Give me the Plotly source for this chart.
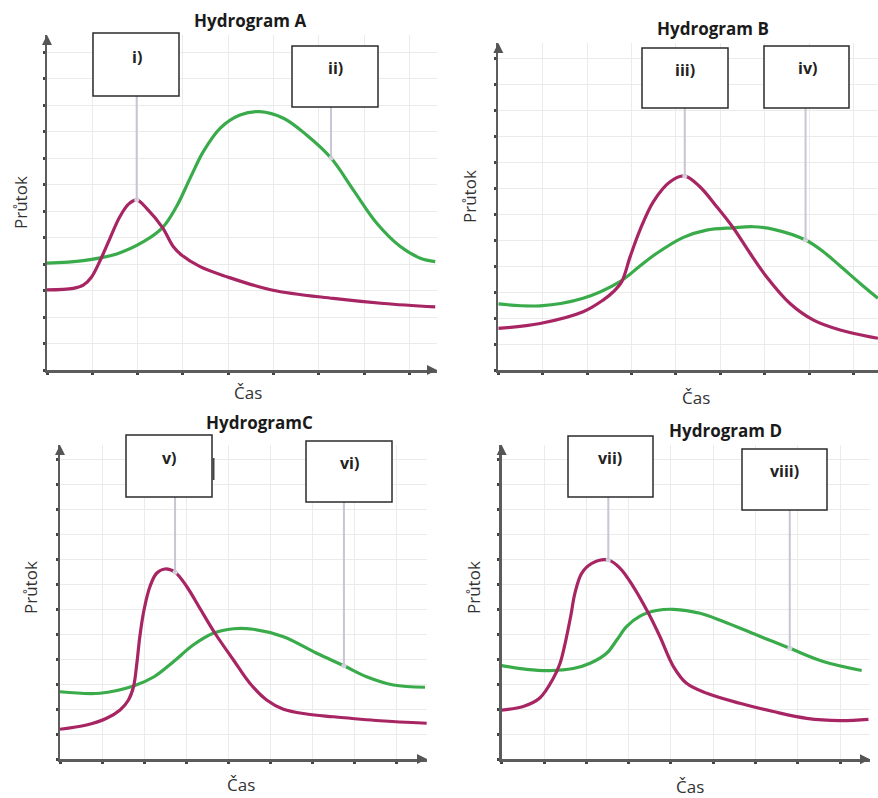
import plotly.graph_objects as go

# ---------------- data (x: time in grid divisions, y: flow in grid divisions) ----------------
A_red_x = [0.0, 0.58, 0.8, 0.98, 1.17, 1.39, 1.61, 1.8, 1.98, 2.2, 2.55, 2.79, 2.97, 3.38, 3.97, 4.96, 6.32, 7.43, 8.57]
A_red_y = [3.02, 3.08, 3.2, 3.5, 4.12, 4.97, 5.79, 6.26, 6.42, 6.1, 5.37, 4.65, 4.34, 3.9, 3.52, 3.02, 2.7, 2.51, 2.38]
A_green_x = [0.0, 0.8, 1.54, 2.13, 2.55, 2.86, 3.16, 3.45, 3.82, 4.26, 4.7, 5.22, 5.73, 6.27, 6.76, 7.28, 7.8, 8.24, 8.57]
A_green_y = [4.03, 4.13, 4.38, 4.84, 5.37, 6.17, 7.24, 8.24, 9.12, 9.62, 9.75, 9.5, 8.87, 8.0, 6.8, 5.54, 4.66, 4.22, 4.09]

B_red_x = [0.0, 0.94, 1.91, 2.36, 2.59, 2.78, 2.97, 3.19, 3.49, 3.87, 4.2, 4.54, 4.92, 5.29, 5.67, 6.04, 6.57, 7.1, 7.7, 8.55]
B_red_y = [1.6, 1.79, 2.24, 2.69, 3.01, 3.4, 4.36, 5.38, 6.47, 7.24, 7.46, 7.05, 6.28, 5.47, 4.49, 3.59, 2.56, 1.92, 1.54, 1.22]
B_green_x = [0.0, 0.94, 1.91, 2.74, 3.19, 3.57, 4.17, 4.69, 5.29, 5.74, 6.2, 6.92, 7.32, 7.7, 8.15, 8.55]
B_green_y = [2.54, 2.47, 2.76, 3.4, 4.0, 4.49, 5.1, 5.38, 5.47, 5.51, 5.41, 5.0, 4.55, 4.0, 3.33, 2.76]

C_red_x = [0.0, 0.63, 1.11, 1.43, 1.63, 1.75, 1.83, 1.9, 2.0, 2.14, 2.3, 2.5, 2.74, 3.02, 3.33, 3.69, 4.13, 4.52,
           4.92, 5.32, 5.87, 6.51, 7.62, 8.73]
C_red_y = [1.19, 1.36, 1.63, 1.96, 2.36, 2.89, 3.83, 4.89, 5.96, 6.89, 7.43, 7.6, 7.47, 6.89, 6.03, 5.03, 3.96, 3.03,
           2.36, 1.99, 1.8, 1.69, 1.53, 1.43]
C_green_x = [0.0, 0.95, 1.75, 2.24, 2.7, 3.17, 3.65, 4.13, 4.6, 5.32, 6.11, 6.76, 7.3, 7.94, 8.69]
C_green_y = [2.69, 2.63, 2.92, 3.29, 3.89, 4.56, 5.03, 5.21, 5.19, 4.89, 4.23, 3.73, 3.29, 2.96, 2.87]

D_red_x = [0.0, 0.51, 0.9, 1.22, 1.38, 1.5, 1.63, 1.73, 1.89, 2.13, 2.52, 2.8, 3.11, 3.47, 3.74, 4.06, 4.37, 4.85,
           5.63, 6.42, 7.21, 8.0, 8.67]
D_red_y = [1.97, 2.11, 2.45, 3.24, 3.84, 4.64, 5.71, 6.64, 7.44, 7.84, 7.97, 7.64, 6.91, 5.84, 4.91, 3.71, 3.04, 2.64,
           2.24, 1.91, 1.64, 1.55, 1.6]
D_green_x = [0.0, 0.59, 1.14, 1.69, 2.09, 2.48, 2.72, 2.95, 3.27, 3.66, 4.06, 4.69, 5.24, 6.03, 6.81, 7.6, 8.51]
D_green_y = [3.75, 3.6, 3.55, 3.63, 3.84, 4.24, 4.77, 5.31, 5.73, 5.95, 6.0, 5.84, 5.51, 4.97, 4.44, 3.91, 3.55]

titles = ["Hydrogram A", "Hydrogram B", "HydrogramC", "Hydrogram D"]
callout_labels = ["i)", "ii)", "iii)", "iv)", "v)", "vi)", "vii)", "viii)"]
# callout anchor x (time) on a curve
callout_x = [1.98, 6.27, 4.2, 6.92, 2.74, 6.76, 2.52, 6.81]
callout_series = ["red", "green", "red", "green", "red", "green", "red", "green"]
y_label = "Průtok"
x_label = "Čas"

# ---------------- layout geometry (pixels) ----------------
W, H = 878, 798
RED = "#a82563"
GREEN = "#3aab4b"


def X(px):
    return px / W


def Y(py):
    return 1 - py / H


# x0, x1, ybottom, ytop, px per x-unit, px per y-unit
geo = [
    (47, 437, 370, 35, 45.3, 26.5),
    (498.3, 878, 370, 43, 44.4, 26.0),
    (60, 427, 759, 445, 42.0, 25.0),
    (501.7, 870, 759.3, 445, 42.3, 25.0),
]
series = [
    (A_red_x, A_red_y, A_green_x, A_green_y),
    (B_red_x, B_red_y, B_green_x, B_green_y),
    (C_red_x, C_red_y, C_green_x, C_green_y),
    (D_red_x, D_red_y, D_green_x, D_green_y),
]
title_pos = [(250, 20), (713, 28), (259, 422), (725, 430)]
ylab_pos = [(20, 203), (470, 197), (30, 588), (473, 587)]
xlab_pos = [(248, 393), (696, 397), (241, 784), (690, 786)]
# box: (left, top, right, bottom), label centre
boxes = [
    ((93, 33, 179, 96), (137, 57)),
    ((292, 46, 378, 107), (335, 68)),
    ((642, 48, 728, 108), (685, 70)),
    ((764, 46, 849, 108), (807, 68)),
    ((126, 435, 212, 497), (169, 458)),
    ((306, 441, 392, 502), (349, 463)),
    ((568, 436, 653, 497), (610, 458)),
    ((742, 449, 827, 510), (784, 471)),
]

fig = go.Figure()
shapes = []
annotations = []
FONT = "Open Sans"

for k in range(4):
    x0, x1, yb, yt, ux, uy = geo[k]
    xr = (x1 - x0) / ux
    yr = (yb - yt) / uy
    sfx = "" if k == 0 else str(k + 1)
    xa, ya = "x" + sfx, "y" + sfx
    rx, ry, gx, gy = series[k]
    fig.add_trace(go.Scatter(x=gx, y=gy, mode="lines",
                             line=dict(color=GREEN, width=3.2, shape="spline", smoothing=1.0),
                             xaxis=xa, yaxis=ya, showlegend=False, hoverinfo="skip"))
    fig.add_trace(go.Scatter(x=rx, y=ry, mode="lines",
                             line=dict(color=RED, width=3.2, shape="spline", smoothing=1.0),
                             xaxis=xa, yaxis=ya, showlegend=False, hoverinfo="skip"))
    axis_common = dict(showgrid=True, gridcolor="#ebebeb", gridwidth=1, dtick=1, tick0=0,
                       showticklabels=False, ticks="outside", ticklen=2, tickwidth=3, tickcolor="#444",
                       showline=True, linecolor="#5c5c5c", linewidth=2.5, zeroline=False, fixedrange=True)
    fig.update_layout(**{
        ("xaxis" + sfx): dict(domain=[X(x0), min(1.0, X(x1))], range=[0, xr], anchor=ya, **axis_common),
        ("yaxis" + sfx): dict(domain=[Y(yb), Y(yt)], range=[0, yr], anchor=xa, **axis_common),
    })
    # axis arrowheads
    annotations.append(dict(x=0, y=yr, xref=xa, yref=ya, ax=0, ay=7, text="", showarrow=True,
                            arrowhead=2, arrowsize=1, arrowwidth=2, arrowcolor="#555"))
    if k != 1:
        annotations.append(dict(x=xr, y=0, xref=xa, yref=ya, ax=-7, ay=0, text="", showarrow=True,
                                arrowhead=2, arrowsize=1, arrowwidth=2, arrowcolor="#555"))
    # titles and axis labels
    tx, ty = title_pos[k]
    annotations.append(dict(x=X(tx), y=Y(ty), xref="paper", yref="paper", text="<b>%s</b>" % titles[k],
                            showarrow=False, font=dict(family=FONT, size=17, color="#1a1a1a"),
                            xanchor="center", yanchor="middle"))
    lx, ly = ylab_pos[k]
    annotations.append(dict(x=X(lx), y=Y(ly), xref="paper", yref="paper", text=y_label, textangle=-90,
                            showarrow=False, font=dict(family=FONT, size=17, color="#333"),
                            xanchor="center", yanchor="middle"))
    cx, cy = xlab_pos[k]
    annotations.append(dict(x=X(cx), y=Y(cy), xref="paper", yref="paper", text=x_label,
                            showarrow=False, font=dict(family=FONT, size=17, color="#333"),
                            xanchor="center", yanchor="middle"))
    # callouts
    for j in (2 * k, 2 * k + 1):
        (bl, bt, br, bb), (lx2, ly2) = boxes[j]
        cxv = callout_x[j]
        sx, sy = (rx, ry) if callout_series[j] == "red" else (gx, gy)
        cyv = sy[sx.index(cxv)]
        box_bottom_data = (yb - bb) / uy
        shapes.append(dict(type="line", xref=xa, yref=ya, x0=cxv, x1=cxv, y0=cyv, y1=box_bottom_data,
                           line=dict(color="#c6c6d4", width=2), layer="above"))
        fig.add_trace(go.Scatter(x=[cxv], y=[cyv], mode="markers",
                                 marker=dict(color="#d4d4dc", size=5), xaxis=xa, yaxis=ya,
                                 showlegend=False, hoverinfo="skip"))
        shapes.append(dict(type="rect", xref="paper", yref="paper", x0=X(bl), x1=X(br), y0=Y(bb), y1=Y(bt),
                           line=dict(color="#2b2b2b", width=1.5), fillcolor="white", layer="above"))
        annotations.append(dict(x=X(lx2), y=Y(ly2), xref="paper", yref="paper",
                                text="<b>%s</b>" % callout_labels[j], showarrow=False,
                                font=dict(family=FONT, size=16, color="#222"),
                                xanchor="center", yanchor="middle"))

# stray bracket stroke next to box v)
shapes.append(dict(type="line", xref="paper", yref="paper", x0=X(213.5), x1=X(213.5), y0=Y(480), y1=Y(458),
                   line=dict(color="#444", width=2), layer="above"))

fig.update_layout(width=W, height=H, margin=dict(l=0, r=0, t=0, b=0),
                  paper_bgcolor="white", plot_bgcolor="white",
                  shapes=shapes, annotations=annotations, showlegend=False)
fig.write_html("out.html", config={"displayModeBar": False, "staticPlot": True},
               post_script="document.body.style.margin='0';document.body.style.padding='0';"
                           "document.body.style.overflow='hidden';")
